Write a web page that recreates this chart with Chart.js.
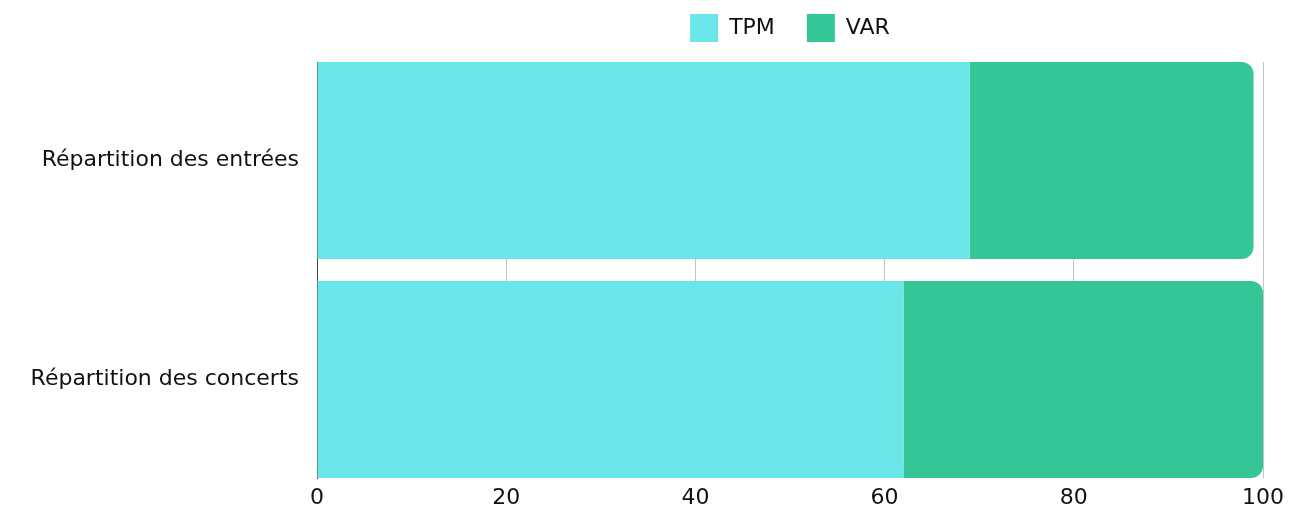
<!DOCTYPE html>
<html>
<head>
<meta charset="utf-8">
<script src="https://cdn.jsdelivr.net/npm/chart.js@4/dist/chart.umd.min.js"></script>
<style>
  html, body { margin: 0; padding: 0; background: #fff; }
  #wrap { width: 1303px; height: 510px; }
</style>
</head>
<body>
<div id="wrap"><canvas id="repartitionChart"></canvas></div>
<script>
// categories + series (percent)
const categories = ['Répartition des entrées', 'Répartition des concerts'];
const tpmValues = [69, 62];
const varValues = [30, 38];
const xTicks = [0, 20, 40, 60, 80, 100];

const fontName = '"DejaVu Sans", sans-serif';

// y is a linear index axis (0, 1) so the bars can sit flush against the top/bottom of the plot
const toPoints = (vals) => vals.map((v, i) => ({ x: v, y: i }));

// extra room under the legend
const legendMargin = {
    id: 'legendMargin',
    beforeInit(chart) {
        const fitValue = chart.legend.fit;
        chart.legend.fit = function fit() {
            fitValue.bind(chart.legend)();
            this.height += 10;
        };
    }
};

const ctx = document.getElementById('repartitionChart').getContext('2d');
const repartitionChart = new Chart(ctx, {
    type: 'bar',
    data: {
        datasets: [{
            label: 'TPM',
            data: toPoints(tpmValues),
            backgroundColor: '#6ae5e8',
            borderWidth: 0,
            borderRadius: 12
        }, {
            label: 'VAR',
            data: toPoints(varValues),
            backgroundColor: '#34c697',
            borderWidth: 0,
            borderRadius: 12
        }]
    },
    plugins: [legendMargin],
    options: {
        indexAxis: 'y',
        animation: false,
        responsive: true,
        maintainAspectRatio: false,
        layout: {
            padding: { left: 0, right: 40, top: -18, bottom: -8 }
        },
        datasets: {
            bar: { barPercentage: 0.9, categoryPercentage: 1 }
        },
        scales: {
            x: {
                stacked: true,
                min: 0,
                max: 100,
                afterBuildTicks: (axis) => { axis.ticks = xTicks.map(v => ({ value: v })); },
                grid: { color: '#c4c4c4', lineWidth: 1, drawTicks: false },
                border: { display: false },
                ticks: { color: '#111', font: { family: fontName, size: 22, lineHeight: 1 }, padding: 9 }
            },
            y: {
                type: 'linear',
                stacked: true,
                reverse: true,
                offset: false,
                min: -0.45,
                max: 1.45,
                afterBuildTicks: (axis) => { axis.ticks = categories.map((c, i) => ({ value: i })); },
                afterFit: (axis) => { axis.width = 317; },
                grid: { display: false, drawTicks: false, offset: false },
                border: { display: true, color: '#444', width: 1 },
                ticks: {
                    autoSkip: false,
                    color: '#111',
                    font: { family: fontName, size: 22 },
                    padding: 18,
                    callback: (v) => categories[v]
                }
            }
        },
        plugins: {
            legend: {
                position: 'top',
                fullSize: false,
                labels: {
                    color: '#111',
                    font: { family: fontName, size: 22 },
                    boxWidth: 28,
                    boxHeight: 28,
                    padding: 32
                }
            },
            tooltip: { enabled: false }
        }
    }
});
</script>
</body>
</html>
